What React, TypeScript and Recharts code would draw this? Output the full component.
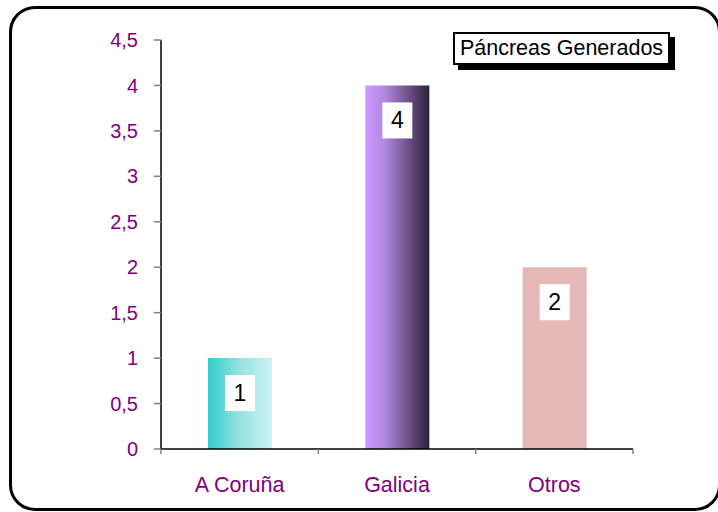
import { BarChart, Bar, XAxis, YAxis, Cell, LabelList, Legend } from 'recharts';

const categories = ['A Coruña', 'Galicia', 'Otros'];
const pancreas = [1, 4, 2];
const yTicks = [0, 0.5, 1, 1.5, 2, 2.5, 3, 3.5, 4, 4.5];
const seriesName = 'Páncreas Generados';

const data = categories.map((name, i) => ({ name, value: pancreas[i] }));
const barFills = ['url(#gradCoruna)', 'url(#gradGalicia)', '#E6B9B8'];

const FONT = '"Liberation Sans", Arial, sans-serif';
const PURPLE = '#800080';

// category ticks sit between bars, labels in the middle
const XTick = (props: any) => {
  const { x, y, payload, index } = props;
  const half = payload && payload.offset ? payload.offset : 78.67;
  const last = index === categories.length - 1;
  return (
    <g>
      <line x1={x - half} x2={x - half} y1={y} y2={y + 5} stroke="#808080" strokeWidth={1.5} />
      {last && <line x1={x + half} x2={x + half} y1={y} y2={y + 5} stroke="#808080" strokeWidth={1.5} />}
      <text x={x} y={y + 43} textAnchor="middle" fill={PURPLE} fontSize={21.5} fontFamily={FONT}>
        {payload.value}
      </text>
    </g>
  );
};

const ValueLabel = (props: any) => {
  const { x, y, width, value } = props;
  const cx = x + width / 2;
  return (
    <g>
      <rect x={cx - 15} y={y + 17} width={30} height={36} fill="#fff" />
      <text x={cx} y={y + 43} textAnchor="middle" fill="#000" fontSize={23} fontFamily={FONT}>
        {value}
      </text>
    </g>
  );
};

const LegendBox = () => (
  <div
    style={{
      boxSizing: 'border-box',
      width: 217,
      height: 33,
      border: '2px solid #000',
      boxShadow: '5px 5px 0 #000',
      background: '#fff',
      fontFamily: FONT,
      fontSize: 21.5,
      color: '#000',
      textAlign: 'center',
      lineHeight: '29px',
      whiteSpace: 'nowrap',
    }}
  >
    {seriesName}
  </div>
);

export default function App() {
  return (
    <div style={{ position: 'absolute', left: 0, top: 0, width: 718, height: 512, overflow: 'hidden', background: '#fff' }}>
      <div
        style={{
          position: 'absolute',
          left: 9,
          top: 6,
          width: 712,
          height: 505,
          boxSizing: 'border-box',
          border: '3px solid #000',
          borderRadius: 26,
        }}
      />
      <BarChart
        width={718}
        height={512}
        data={data}
        margin={{ top: 40, right: 85, left: 0, bottom: 0 }}
        style={{ position: 'absolute', left: 0, top: 0 }}
      >
        <defs>
          <linearGradient id="gradCoruna" x1="0" y1="0" x2="1" y2="0">
            <stop offset="0%" stopColor="#33CCCC" />
            <stop offset="50%" stopColor="#99E2E2" />
            <stop offset="100%" stopColor="#CCF2F2" />
          </linearGradient>
          <linearGradient id="gradGalicia" x1="0" y1="0" x2="1" y2="0">
            <stop offset="0%" stopColor="#CC99FF" />
            <stop offset="30%" stopColor="#B388E0" />
            <stop offset="100%" stopColor="#2E1F3A" />
          </linearGradient>
        </defs>
        <XAxis
          dataKey="name"
          axisLine={{ stroke: '#000', strokeWidth: 1.5 }}
          tickLine={false}
          tickSize={0}
          tickMargin={0}
          tick={<XTick />}
          interval={0}
          height={63}
        />
        <YAxis
          domain={[0, 4.5]}
          ticks={yTicks}
          width={161}
          axisLine={{ stroke: '#000', strokeWidth: 1.5 }}
          tickLine={{ stroke: '#808080', strokeWidth: 1.5 }}
          tickSize={7}
          tickMargin={16}
          tick={{ fill: PURPLE, fontSize: 20, fontFamily: FONT }}
          tickFormatter={(v: number) => String(v).replace('.', ',')}
        />
        <Legend
          layout="vertical"
          align="center"
          verticalAlign="middle"
          content={<LegendBox />}
          wrapperStyle={{ top: 32, left: 453, width: 'auto', height: 'auto' }}
        />
        <Bar dataKey="value" name={seriesName} barSize={64} isAnimationActive={false}>
          {data.map((d, i) => (
            <Cell key={d.name} fill={barFills[i]} />
          ))}
          <LabelList dataKey="value" content={<ValueLabel />} />
        </Bar>
      </BarChart>
    </div>
  );
}
